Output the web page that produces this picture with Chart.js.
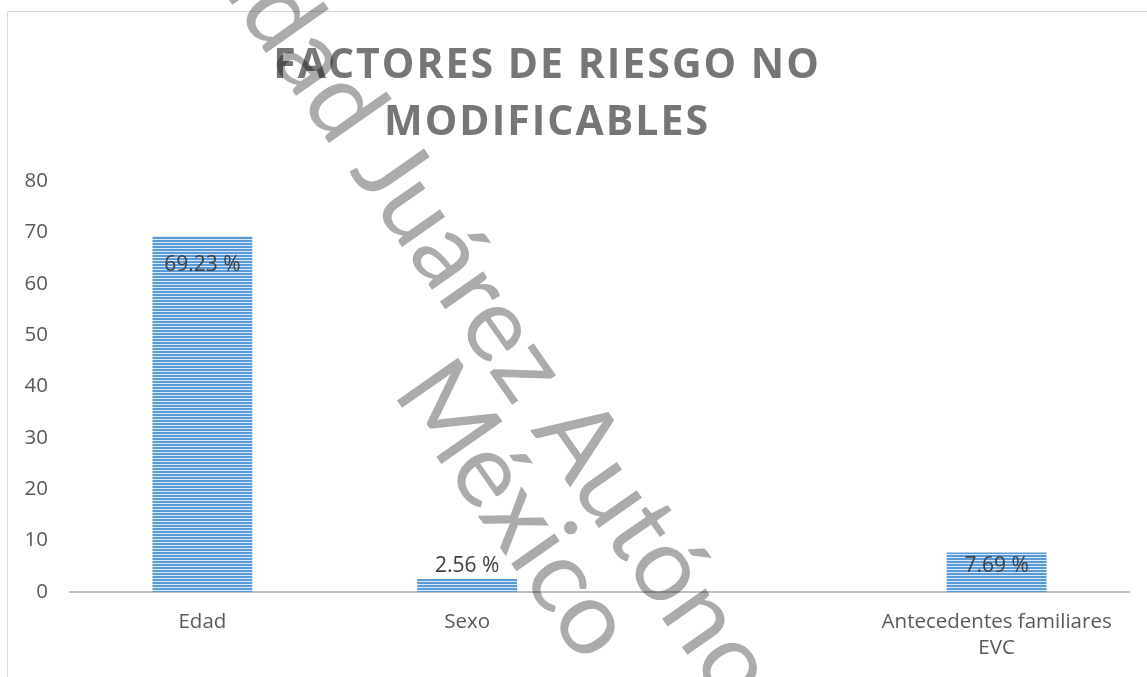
<!DOCTYPE html>
<html>
<head>
<meta charset="utf-8">
<title>Factores de riesgo no modificables</title>
<script src="https://cdn.jsdelivr.net/npm/chart.js@4.4.1/dist/chart.umd.min.js"></script>
<style>
  html, body { margin: 0; padding: 0; background: #fff; }
  #wrap { position: relative; width: 1147px; height: 677px; }
</style>
</head>
<body>
<div id="wrap"><canvas id="barChart" width="1147" height="677"></canvas></div>
<script>
// datos del grafico
var categorias = [['Edad'], ['Sexo'], [''], ['Antecedentes familiares', 'EVC']];
var porcentajes = [69.23, 2.56, null, 7.69];
var ticksY = [0, 10, 20, 30, 40, 50, 60, 70, 80];
var titulo = ['FACTORES DE RIESGO NO', 'MODIFICABLES'];
var marcaAgua = ['Universidad Juárez ', 'Autónoma de Tabasco', 'México'];

var fuente = "'Open Sans', 'Noto Sans', sans-serif";

// relleno de rayas horizontales como en excel
function rayas(){
  var c = document.createElement('canvas');
  c.width = 4; c.height = 3;
  var x = c.getContext('2d');
  x.fillStyle = '#5b9bd5';
  x.fillRect(0, 0, 4, 2);
  x.fillStyle = '#d9e7f6';
  x.fillRect(0, 2, 4, 1);
  return x.createPattern(c, 'repeat');
}

var marco = {
  id: 'marco',
  beforeDraw: function(chart){
    var ctx = chart.ctx;
    ctx.save();
    ctx.strokeStyle = '#d9d9d9';
    ctx.lineWidth = 1;
    ctx.beginPath();
    ctx.moveTo(7.5, chart.height);
    ctx.lineTo(7.5, 11.5);
    ctx.lineTo(chart.width, 11.5);
    ctx.stroke();

    // titulo
    ctx.fillStyle = '#767676';
    ctx.font = 'bold 41px ' + fuente;
    ctx.textAlign = 'center';
    ctx.textBaseline = 'alphabetic';
    ctx.letterSpacing = '2px';
    ctx.fillText(titulo[0], 547, 78);
    ctx.fillText(titulo[1], 547, 135);
    ctx.restore();
  }
};

var etiquetas = {
  id: 'etiquetas',
  afterDatasetsDraw: function(chart){
    var ctx = chart.ctx;
    var meta = chart.getDatasetMeta(0);
    ctx.save();
    ctx.fillStyle = '#404040';
    ctx.font = '21px ' + fuente;
    ctx.textAlign = 'center';
    ctx.textBaseline = 'middle';
    meta.data.forEach(function(bar, i){
      var v = porcentajes[i];
      if (v === null) return;
      var alto = bar.base - bar.y;
      var y;
      if (alto < 30) {
        y = bar.y - 13;
      } else {
        y = bar.y + Math.min(29, alto / 2 - 6);
      }
      ctx.fillText(v.toFixed(2) + ' %', bar.x, y);
    });
    ctx.restore();
  }
};

var agua = {
  id: 'agua',
  afterDraw: function(chart){
    var ctx = chart.ctx;
    ctx.save();
    ctx.globalCompositeOperation = 'multiply';
    ctx.fillStyle = '#ababab';
    ctx.font = '104px Lato, ' + fuente;
    ctx.textBaseline = 'alphabetic';
    ctx.translate(530, 430);
    ctx.rotate(55 * Math.PI / 180);
    ctx.textAlign = 'right';
    ctx.fillText(marcaAgua[0], 0, 0);
    ctx.textAlign = 'left';
    ctx.fillText(marcaAgua[1], 0, 0);
    ctx.fillText(marcaAgua[2], -110, 92);
    ctx.restore();
  }
};

function grafica(){
  var ctx = document.getElementById('barChart').getContext('2d');
  new Chart(ctx, {
    type: 'bar',
    data: {
      labels: categorias,
      datasets: [{
        label: 'Porcentaje',
        data: porcentajes,
        backgroundColor: rayas(),
        borderWidth: 0,
        categoryPercentage: 1,
        barPercentage: 0.377
      }]
    },
    options: {
      responsive: false,
      animation: false,
      layout: { padding: { top: 181, right: 18, bottom: 0, left: 0 } },
      plugins: {
        legend: { display: false },
        title: { display: false },
        tooltip: { enabled: false }
      },
      scales: {
        x: {
          grid: { display: false, drawTicks: false },
          border: { display: true, color: '#bfbfbf', width: 2 },
          ticks: {
            color: '#595959',
            font: { family: fuente, size: 20.5, lineHeight: 1.27 },
            padding: 17,
            maxRotation: 0,
            autoSkip: false
          },
          afterFit: function(s){ s.height = 85; }
        },
        y: {
          min: 0,
          max: 80,
          afterBuildTicks: function(s){
            s.ticks = ticksY.map(function(v){ return { value: v }; });
          },
          grid: { display: false, drawTicks: false },
          border: { display: false },
          ticks: {
            color: '#595959',
            font: { family: fuente, size: 20.5 },
            padding: 22
          },
          afterFit: function(s){ s.width = 70; }
        }
      }
    },
    plugins: [marco, etiquetas, agua]
  });
}

grafica();
</script>
</body>
</html>
